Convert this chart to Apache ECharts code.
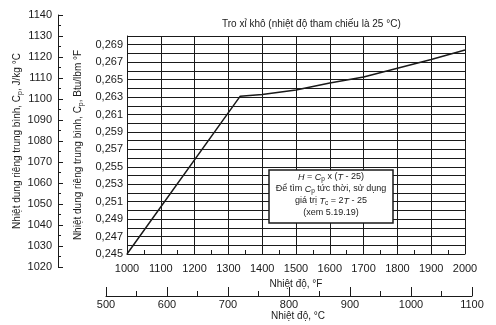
<!DOCTYPE html>
<html>
<head>
<meta charset="utf-8">
<script src="https://cdn.jsdelivr.net/npm/echarts@6/dist/echarts.min.js"></script>
<style>
  html, body { margin: 0; padding: 0; background: #fff; }
  #chart { width: 496px; height: 325px; }
</style>
</head>
<body>
<div id="chart"></div>
<script>
// Mean specific heat of dry ash vs temperature (reference temperature 25 °C)
const tempF = [1000, 1335, 1400, 1500, 1600, 1700, 1800, 1900, 2000];
const cpBtu = [0.2450, 0.2631, 0.2633, 0.2638, 0.2646, 0.2653, 0.2663, 0.2673, 0.2684];

// Axis ranges
const rangeF = [1000, 2000];
const rangeC = [500, 1100];
const rangeBtu = [0.245, 0.270];
const rangeJ = [1020, 1140];

// Note lines inside the box
const noteLines = [
  '{i|H} = {i|C}{s|p} x ({i|T} - 25)',
  'Để tìm {i|C}{s|p} tức thời, sử dụng',
  'giá trị {i|T}{s|c} = 2{i|T} - 25',
  '(xem 5.19.19)'
];

const FONT = '"Liberation Sans", Arial, sans-serif';
const INK = '#1a1a1a';

const chart = echarts.init(document.getElementById('chart'), null, { renderer: 'canvas' });

const subRich = {
  s: { fontSize: 7, fontFamily: FONT, color: INK, padding: [5, 0, 0, 0] },
  i: { fontStyle: 'italic', fontSize: 10, fontFamily: FONT, color: INK }
};
const noteRich = {
  s: { fontSize: 6.5, fontFamily: FONT, color: INK, padding: [5, 0, 0, 0] },
  i: { fontStyle: 'italic', fontSize: 9, fontFamily: FONT, color: INK }
};

const plain = v => String(Math.round(v));

const noteBox = { left: 269, top: 170, width: 124, height: 53, lineH: 12 };
const noteGraphics = [
  {
    type: 'rect', z: 10,
    shape: { x: noteBox.left, y: noteBox.top, width: noteBox.width, height: noteBox.height },
    style: { fill: '#fff', stroke: INK, lineWidth: 1.5 }
  }
].concat(noteLines.map((txt, i) => ({
  type: 'text', z: 11,
  x: noteBox.left + noteBox.width / 2,
  y: noteBox.top + 7 + i * noteBox.lineH,
  style: {
    text: txt,
    align: 'center',
    verticalAlign: 'middle',
    font: '9px ' + FONT,
    fill: INK,
    rich: noteRich
  }
})));

chart.setOption({
  backgroundColor: '#fff',
  animation: false,
  textStyle: { fontFamily: FONT, color: INK },
  title: {
    text: 'Tro xỉ khô (nhiệt độ tham chiếu là 25 °C)',
    left: 217, top: 14,
    textStyle: { fontSize: 10, fontWeight: 'normal', color: INK, fontFamily: FONT }
  },
  grid: [
    { left: 127, top: 36, width: 338, height: 218 },   // main plot (°F / Btu)
    { left: 58, top: 15, width: 1, height: 252 },      // J/kg °C scale
    { left: 106, top: 270, width: 366, height: 26 }    // °C scale
  ],
  xAxis: [
    {
      gridIndex: 0, type: 'value', min: rangeF[0], max: rangeF[1], interval: 100,
      name: 'Nhiệt độ, °F', nameLocation: 'middle', nameGap: 19,
      nameTextStyle: { fontSize: 10, color: INK },
      axisLine: { show: true, lineStyle: { color: INK, width: 1 } },
      axisTick: { show: false, inside: true },
      minorTick: { show: true, splitNumber: 2, length: 4, lineStyle: { color: INK } },
      axisLabel: { fontSize: 11, color: INK, margin: 9, formatter: plain },
      splitLine: { show: true, lineStyle: { color: INK, width: 1 } }
    },
    { gridIndex: 1, type: 'value', show: false, min: 0, max: 1 },
    {
      gridIndex: 2, type: 'value', min: rangeC[0], max: rangeC[1], interval: 100,
      name: 'Nhiệt độ, °C', nameLocation: 'middle', nameGap: 12,
      nameTextStyle: { fontSize: 10, color: INK, padding: [0, 0, 0, 18] },
      axisLine: { show: true, lineStyle: { color: INK, width: 1 } },
      axisTick: { show: true, inside: true, length: 9, lineStyle: { color: INK } },
      minorTick: { show: true, splitNumber: 2, length: 5, lineStyle: { color: INK } },
      axisLabel: { fontSize: 11, color: INK, margin: 3, formatter: plain },
      splitLine: { show: false }
    }
  ],
  yAxis: [
    {
      gridIndex: 0, type: 'value', min: rangeBtu[0], max: rangeBtu[1], interval: 0.001,
      name: 'Nhiệt dung riêng trung bình, C{s|p}, Btu/lbm °F',
      nameLocation: 'middle', nameRotate: 90, nameGap: 33,
      nameTextStyle: { fontSize: 10, color: INK, rich: subRich },
      axisLine: { show: true, lineStyle: { color: INK, width: 1 } },
      axisTick: { show: false },
      axisLabel: {
        fontSize: 11, color: INK, margin: 4,
        formatter: function (v) {
          const k = Math.round(v * 1000);
          return (k % 2 === 1) ? '0,' + k : '';
        }
      },
      splitLine: { show: true, lineStyle: { color: INK, width: 1 } }
    },
    {
      gridIndex: 1, type: 'value', min: rangeJ[0], max: rangeJ[1], interval: 10,
      name: 'Nhiệt dung riêng trung bình, C{s|p}, J/kg °C',
      nameLocation: 'middle', nameRotate: 90, nameGap: 34,
      nameTextStyle: { fontSize: 10, color: INK, rich: subRich },
      axisLine: { show: true, lineStyle: { color: INK, width: 1 } },
      axisTick: { show: true, inside: true, length: 5, lineStyle: { color: INK } },
      minorTick: { show: true, splitNumber: 2, length: 3, lineStyle: { color: INK } },
      axisLabel: { fontSize: 11, color: INK, margin: 6, formatter: plain },
      splitLine: { show: false }
    },
    { gridIndex: 2, type: 'value', show: false, min: 0, max: 1 }
  ],
  series: [
    {
      type: 'line', xAxisIndex: 0, yAxisIndex: 0,
      data: tempF.map((t, i) => [t, cpBtu[i]]),
      showSymbol: false, symbol: 'none',
      lineStyle: { color: INK, width: 1.5 },
      z: 5
    }
  ],
  graphic: noteGraphics
});
</script>
</body>
</html>
